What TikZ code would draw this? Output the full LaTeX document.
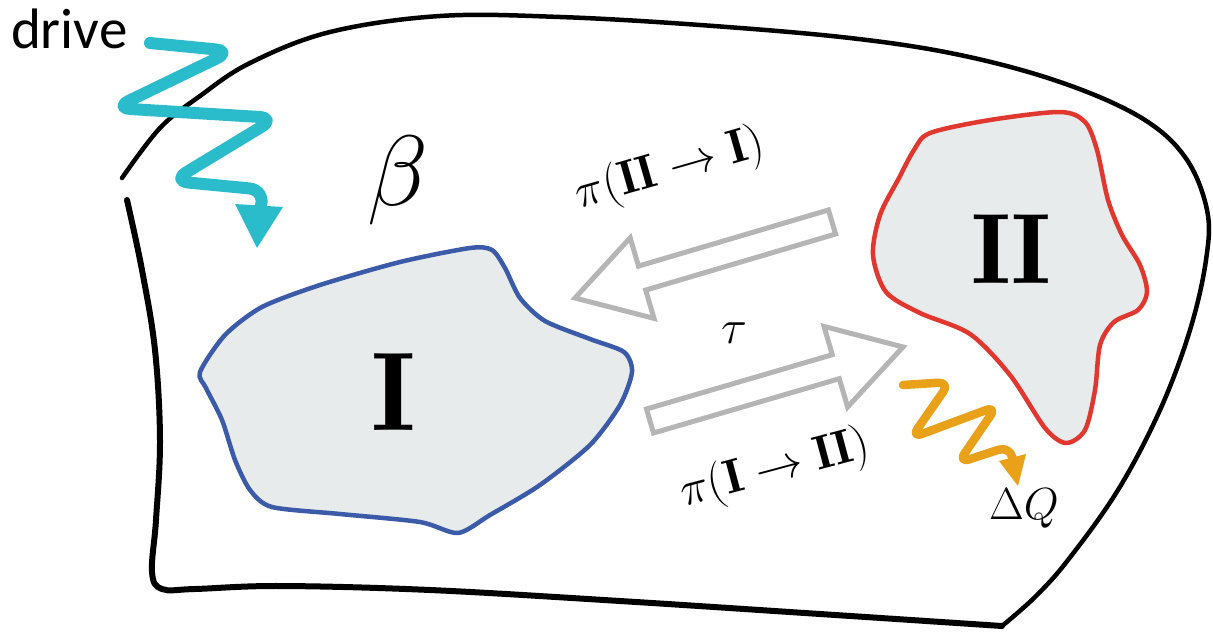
\RequirePackage{fix-cm}
\documentclass[tikz,border=0pt]{standalone}
\usepackage{fontspec}
\newfontfamily\drivefont{Carlito}
\definecolor{regionfill}{HTML}{E8EBEC}
\definecolor{blueline}{HTML}{3B5BA9}
\definecolor{redline}{HTML}{E0372F}
\definecolor{cyanline}{HTML}{2BBCCB}
\definecolor{orangeline}{HTML}{E9A11A}
\definecolor{arrowgray}{HTML}{B5B5B5}
\tikzset{
  region/.style={fill=regionfill, line width=4.5pt, line join=round},
  hollow/.style={draw=arrowgray, fill=white, line width=5pt, line join=miter},
  wave/.style={line width=#1, rounded corners=17pt, line cap=round, line join=round},
  outer/.style={draw=black, line width=5pt, line cap=round, line join=round},
  lbl/.style={inner sep=0pt, outer sep=0pt},
}
\begin{document}
\begin{tikzpicture}[x=1pt, y=-1pt]
\useasboundingbox (0,0) rectangle (1213,634);
\fill[white] (0,0) rectangle (1213,634);

% outer system boundary
\draw[outer, line width=4.5pt] plot[smooth, tension=0.6] coordinates {
  (122,178) (160,128) (200,96) (250,63) (330,32) (440,16) (560,17) (700,25)
  (850,38) (960,55) (1060,82) (1140,117) (1185,157) (1207,210) (1206,260)
  (1190,330) (1160,410) (1118,490) (1068,560) (1035,597) (1002,626)};
\draw[outer, line width=6pt] plot[smooth, tension=0.6] coordinates {
  (1002,626) (820,614) (620,601) (430,590) (280,586) (195,589) (162,589)
  (152,572) (156,520) (160,440) (155,350) (142,270) (127,200)};

% region I
\draw[region, draw=blueline] plot[smooth cycle, tension=0.45] coordinates {
  (200,372) (225,335) (262,307) (320,285) (400,262) (470,248) (492,250)
  (505,268) (520,298) (545,321) (590,339) (624,352) (632,372) (620,405)
  (590,445) (540,485) (490,515) (458,533) (420,522) (340,514) (272,507)
  (250,490) (235,460) (222,420) (206,388)};
% region II
\draw[region, draw=redline] plot[smooth cycle, tension=0.5] coordinates {
  (930,133) (990,120) (1060,112) (1085,122) (1097,150) (1108,200) (1122,235)
  (1140,265) (1147,292) (1138,310) (1114,322) (1100,345) (1095,390)
  (1085,430) (1066,443) (1045,428) (1010,375) (970,334) (920,313) (886,292)
  (873,255) (880,215) (899,178) (914,150)};

\node[lbl, font=\fontsize{112}{112}\selectfont] (labI) at (394,392) {$\mathbf{I}$};
\node[lbl, font=\fontsize{100}{100}\selectfont] (labII) at (1011,249) {$\mathbf{II}$};

% hollow transition arrows
\draw[hollow] (828.4,210) -- (638.5,266.1) -- (630.2,237.8) -- (575,298)
  -- (654,318.4) -- (645.7,290.1) -- (835.6,234) -- cycle;
\draw[hollow] (646.5,409) -- (832.3,354.7) -- (824,326.4) -- (903,347)
  -- (847.6,407) -- (839.3,378.7) -- (653.5,433) -- cycle;

\node[lbl, rotate=16, font=\fontsize{48}{48}\selectfont] (pi21) at (670,170)
  {$\pi(\mathbf{II}\to\mathbf{I})$};
\node[lbl, font=\fontsize{48}{48}\selectfont] (tau) at (734,333) {$\tau$};
\node[lbl, rotate=15, font=\fontsize{48}{48}\selectfont] (pi12) at (775,470)
  {$\pi(\mathbf{I}\to\mathbf{II})$};

% beta
\node[lbl, font=\fontsize{100}{100}\selectfont] (beta) at (398,180) {$\beta$};

% drive
\node[lbl, anchor=base west, font=\drivefont\fontsize{57}{57}\selectfont] (drive) at (11,49) {drive};
\coordinate (d0) at (150,43);
\coordinate (dtip) at (257,248);
\draw[wave=12pt, draw=cyanline] (d0) -- (232,51) -- (114,108) -- (276,118)
  -- (172,181) -- (266,190) -- (259,212);
\fill[cyanline] (235,204) -- (283,207) -- (dtip) -- cycle;

% heat
\coordinate (q0) at (903,385);
\coordinate (qtip) at (1018,486);
\draw[wave=8.5pt, draw=orangeline, rounded corners=12pt] (q0) -- (950,382)
  -- (911,438) -- (997,406) -- (958,463) -- (1010,446) -- (1014,465);
\fill[orangeline] (999,461) -- (1026,454) -- (qtip) -- cycle;
\node[lbl, font=\fontsize{45}{45}\selectfont] (dQ) at (1024,508) {$\Delta Q$};
\end{tikzpicture}
\end{document}
